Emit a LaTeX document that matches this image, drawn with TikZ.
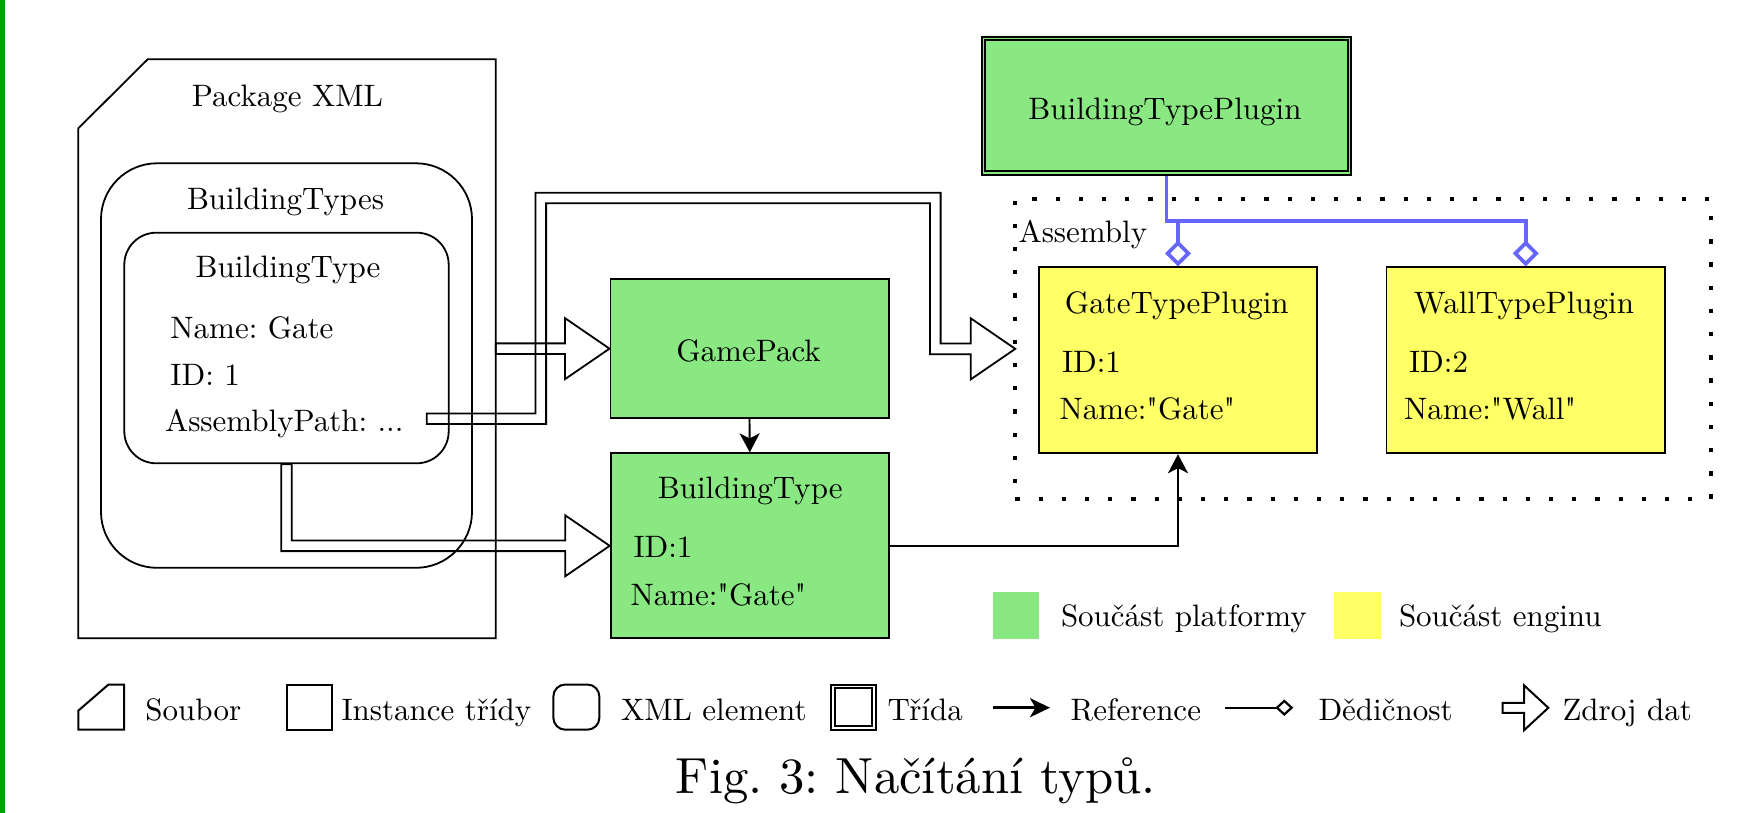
\documentclass[tikz,border=0pt]{standalone}
\usepackage{graphicx}
\usetikzlibrary{arrows.meta,calc}
\definecolor{platgreen}{RGB}{138,232,130}
\definecolor{engyellow}{RGB}{255,255,102}
\definecolor{inhblue}{RGB}{102,102,255}
\definecolor{edgegreen}{RGB}{0,160,0}
% diagram text: 10pt design size, reduced
\newcommand\dg[1]{\scalebox{0.62}{#1}}
% straight double quote glyph, bypassing the TeX ligature mapping
\newcommand\sq{\XeTeXglyph\XeTeXcharglyph"22\relax}
\frenchspacing
\def\zd{5.3}
\def\zh{30.5}
\def\zl{44.5}
\begin{document}
\begin{tikzpicture}[x=0.2pt,y=-0.2pt,
  thin line/.style={line width=0.36pt},
  frame/.style={draw, line width=0.36pt, inner sep=0},
  hidden/.style={inner sep=0, outer sep=0},
  txt/.style={inner sep=0, anchor=base},
  txtl/.style={inner sep=0, anchor=base west},
  zdroj/.style={draw, line width=0.36pt, line join=miter},
  refarrow/.style={draw, line width=0.38pt, -{Stealth[length=3.8pt,width=4pt,inset=1pt]}},
  inh/.style={draw=inhblue, line width=0.75pt, {Diamond[open,length=5.2pt,width=5.2pt]}-},
  assemblybox/.style={draw, line width=0.85pt, dash pattern=on 0.85pt off 3.79pt, inner sep=0, outer sep=0},
  legicon/.style={draw, line width=0.4pt, inner sep=0},
]
\useasboundingbox (0,0) rectangle (1763,813);
\fill[white] (0,0) rectangle (1763,813);
\fill[edgegreen] (0,0) rectangle (4.7,813);

% ---------- Package XML file ----------
\node[hidden, minimum width=83.48pt, minimum height=115.8pt] (pkg) at (287,348.8) {};
\draw[thin line] (pkg.north east) -- (pkg.south east) -- (pkg.south west)
  -- ($(pkg.north west)+(0,69)$) -- ($(pkg.north west)+(69.4,0)$) -- cycle;
\node[txt] (pkgt) at (287.5,106) {\dg{Package XML}};

\node[frame, rounded corners=11.2pt, minimum width=74.2pt, minimum height=80.9pt] (bts) at (286.5,365.55) {};
\node[txt] (btst) at (285.5,209.3) {\dg{BuildingTypes}};

\node[frame, rounded corners=6.4pt, minimum width=64.88pt, minimum height=46.12pt] (btx) at (286.5,348) {};
\node[txt] (btxt) at (288,277.7) {\dg{BuildingType}};
\node[txtl] (btxname) at (169.5,338.3) {\dg{Name: Gate}};
\node[txtl] (btxid) at (169.5,385) {\dg{ID: 1}};
\node[txtl] (btxpath) at (164,431.7) {\dg{AssemblyPath: ...}};
\coordinate (apout) at (426.7,418.7);

% ---------- platform classes ----------
\node[frame, fill=platgreen, minimum width=55.64pt, minimum height=27.86pt] (gp) at (749.5,348.65) {};
\node[txt] (gpt) at (748.6,361.7) {\dg{GamePack}};

\node[frame, fill=platgreen, minimum width=55.68pt, minimum height=37pt] (btg) at (749.8,545.8) {};
\node[txt] (btgt) at (750.3,498.3) {\dg{BuildingType}};
\node[txtl] (btgid) at (632.5,557.7) {\dg{ID:1}};
\node[txtl] (btgname) at (629.5,605) {\dg{Name:\sq Gate\sq}};

\node[draw, fill=platgreen, line width=0.4pt, double=platgreen, double distance=0.34pt,
  inner sep=0, outer sep=0.57pt, minimum width=73.2pt, minimum height=26.94pt] (plug) at (1166.5,105.85) {};
\node[txt] (plugt) at (1165,119) {\dg{BuildingTypePlugin}};

% ---------- assembly with engine plugins ----------
\node[assemblybox, minimum width=139.14pt, minimum height=60.06pt] (asm) at (1363.15,348.85) {};
\node[txtl] (asmt) at (1017.5,242.7) {\dg{Assembly}};

\node[frame, fill=engyellow, minimum width=55.6pt, minimum height=37.2pt] (gate) at (1178,360.3) {};
\node[txt] (gatet) at (1176.8,313.3) {\dg{GateTypePlugin}};
\node[txtl] (gateid) at (1061,372.7) {\dg{ID:1}};
\node[txtl] (gatename) at (1058.5,419.3) {\dg{Name:\sq Gate\sq}};

\node[frame, fill=engyellow, minimum width=55.7pt, minimum height=37.2pt] (wall) at (1525.75,360.3) {};
\node[txt] (wallt) at (1524,313.3) {\dg{WallTypePlugin}};
\node[txtl] (wallid) at (1408,372.7) {\dg{ID:2}};
\node[txtl] (wallname) at (1403,419.3) {\dg{Name:\sq Wall\sq}};

% ---------- data source arrows ----------
\draw[zdroj] (gp.west) -- ($(gp.west)+(-\zl,-\zh)$) -- ($(gp.west)+(-\zl,-\zd)$)
  -- ($(gp.west -| pkg.east)+(0,-\zd)$) -- ($(gp.west -| pkg.east)+(0,\zd)$)
  -- ($(gp.west)+(-\zl,\zd)$) -- ($(gp.west)+(-\zl,\zh)$) -- cycle;

\coordinate (k1) at (540.8,198);
\coordinate (k2) at (935.3,198);
\draw[zdroj] ($(apout)+(0,-\zd)$) -- ($(apout -| k1)+(-\zd,-\zd)$) -- ($(k1)+(-\zd,-\zd)$)
  -- ($(k2)+(\zd,-\zd)$) -- ($(k2 |- asm.west)+(\zd,-\zd)$) -- ($(asm.west)+(-\zl,-\zd)$)
  -- ($(asm.west)+(-\zl,-\zh)$) -- (asm.west) -- ($(asm.west)+(-\zl,\zh)$)
  -- ($(asm.west)+(-\zl,\zd)$) -- ($(k2 |- asm.west)+(-\zd,\zd)$) -- ($(k2)+(-\zd,\zd)$)
  -- ($(k1)+(\zd,\zd)$) -- ($(apout -| k1)+(\zd,\zd)$) -- ($(apout)+(0,\zd)$) -- cycle;

\coordinate (k3) at (btx.south |- btg.west);
\draw[zdroj] ($(btx.south)+(\zd,0)$) -- ($(k3)+(\zd,-\zd)$) -- ($(btg.west)+(-\zl,-\zd)$)
  -- ($(btg.west)+(-\zl,-\zh)$) -- (btg.west) -- ($(btg.west)+(-\zl,\zh)$)
  -- ($(btg.west)+(-\zl,\zd)$) -- ($(k3)+(-\zd,\zd)$) -- ($(btx.south)+(-\zd,0)$) -- cycle;

% ---------- references ----------
\draw[refarrow] (gp.south) -- (btg.north);
\draw[refarrow] (btg.east) -| (gate.south);

% ---------- inheritance ----------
\coordinate (bus) at ($(plug.south)+(0,44.7)$);
\draw[inh] (gate.north) -- (gate.north |- bus) -| (plug.south);
\draw[inh] (wall.north) -- (wall.north |- bus) -| (plug.south);

% ---------- colour legend ----------
\node[fill=platgreen, inner sep=0, minimum width=9.34pt, minimum height=9.46pt] (lgg) at (1016,615.35) {};
\node[txtl] (lggt) at (1060,626.7) {\dg{Součást platformy}};
\node[fill=engyellow, inner sep=0, minimum width=9.34pt, minimum height=9.46pt] (lgy) at (1357.2,615.35) {};
\node[txtl] (lgyt) at (1398,626.7) {\dg{Součást enginu}};

% ---------- symbol legend ----------
\node[hidden, minimum width=9.1pt, minimum height=9.04pt] (lgfile) at (101.25,707.1) {};
\draw[line width=0.4pt] (lgfile.north east) -- (lgfile.south east) -- (lgfile.south west)
  -- ($(lgfile.north west)+(0,26)$) -- ($(lgfile.north west)+(30,0)$) -- cycle;
\node[txtl] (lgfilet) at (144.5,720) {\dg{Soubor}};

\node[legicon, minimum width=9pt, minimum height=9.04pt] (lginst) at (309.9,707.1) {};
\node[txtl] (lginstt) at (340.5,720) {\dg{Instance třídy}};

\node[legicon, rounded corners=2.4pt, minimum width=9.2pt, minimum height=9.04pt] (lgxml) at (576.35,707.1) {};
\node[txtl] (lgxmlt) at (620,720) {\dg{XML element}};

\node[legicon, double, double distance=0.34pt, minimum width=8.26pt, minimum height=8.3pt] (lgcls) at (853.5,707.1) {};
\node[txtl] (lgclst) at (886.5,720) {\dg{Třída}};

\coordinate (lgr1) at (993.3,707.7);
\coordinate (lgr2) at (1050,707.7);
\draw[line width=0.5pt, -{Stealth[length=4pt,width=3.8pt,inset=1.1pt]}] (lgr1) -- (lgr2);
\node[txtl] (lgrt) at (1069.5,720) {\dg{Reference}};

\coordinate (lgi1) at (1225,707.7);
\coordinate (lgi2) at (1293.3,707.7);
\draw[line width=0.45pt, -{Diamond[open,length=3.6pt,width=3.3pt]}] (lgi1) -- (lgi2);
\node[txtl] (lgit) at (1317.5,720) {\dg{Dědičnost}};

\coordinate (lgz) at (1548.3,707.8);
\draw[zdroj, line width=0.4pt] (lgz) -- ++(-24.3,-22.5) -- ++(0,17.5) -- ++(-21.3,0)
  -- ++(0,10) -- ++(21.3,0) -- ++(0,17.5) -- cycle;
\node[txtl] (lgzt) at (1561.5,720) {\dg{Zdroj dat}};

% ---------- caption ----------
\node[txt, font=\fontsize{10.15}{12}\selectfont] (cap) at (916,793.3) {Fig.\ 3: Načítání typů.};
\end{tikzpicture}
\end{document}
